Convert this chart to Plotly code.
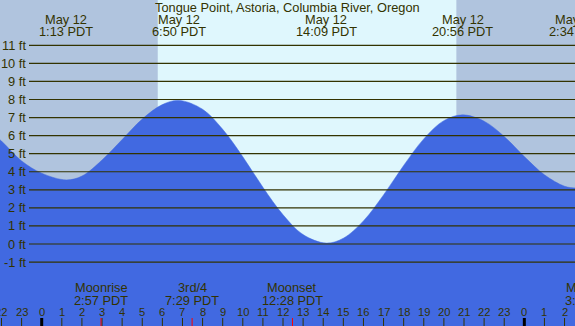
import plotly.graph_objects as go

# ---------------- data ----------------
station = "Tongue Point, Astoria, Columbia River, Oregon"

# hours since midnight, May 12 (PDT) and water level in feet
tide_hours = [-3, -2, -1, 0, 1.22, 2, 3, 4, 5, 6, 6.83, 8, 9, 10, 11, 12, 13,
              14.15, 15, 16, 17, 18, 19, 20, 20.93, 22, 23, 24, 25, 26, 26.57, 27]
tide_ft = [6.70, 5.70, 4.60, 3.92, 3.55, 3.76, 4.65, 5.78, 6.92, 7.72, 7.95,
           7.46, 6.35, 4.83, 3.14, 1.62, 0.52, 0.05, 0.32, 1.28, 2.72, 4.35,
           5.82, 6.83, 7.15, 6.80, 5.95, 4.84, 3.83, 3.20, 3.10, 3.14]

extreme_hours = [1.22, 6.83, 14.15, 20.93, 26.57]
extreme_dates = ["May 12", "May 12", "May 12", "May 12", "May 13"]
extreme_times = ["1:13 PDT", "6:50 PDT", "14:09 PDT", "20:56 PDT", "2:34 PDT"]

moon_hours = [2.95, 7.48, 12.47, 27.37]
moon_names = ["Moonrise", "3rd/4", "Moonset", "Moonrise"]
moon_times = ["2:57 PDT", "7:29 PDT", "12:28 PDT", "3:22 PDT"]

sunset_hours = [-3.4, 20.62]
sunrise_hours = [5.77, 29.75]

hour_ticks = list(range(-2, 27))
hour_labels = [str(h % 24) for h in hour_ticks]
ft_levels = list(range(-1, 12))
ft_labels = [f"{v} ft" for v in ft_levels]

# ---------------- styling / geometry ----------------
W, H = 575, 326
X_RANGE = [-2.074, 26.52]
PX_PER_FT = 18.06
ZERO_PX = 244.0
Y_RANGE = [(ZERO_PX - H) / PX_PER_FT, ZERO_PX / PX_PER_FT]

NIGHT = "#b0c4de"
DAY = "#dff7fd"
WATER = "#4169e1"
INK = "#333300"
FONT = "Liberation Sans, Arial, sans-serif"
FS = 12.8


def hour_to_paper(h):
    """Map an hour on the x axis to a paper fraction (labels may sit past the edge)."""
    return (h - X_RANGE[0]) / (X_RANGE[1] - X_RANGE[0])


fig = go.Figure()

# baseline for the water fill
fig.add_trace(go.Scatter(x=tide_hours, y=[Y_RANGE[0] - 1] * len(tide_hours),
                         mode="lines", line=dict(width=0), hoverinfo="skip",
                         showlegend=False))
fig.add_trace(go.Scatter(x=tide_hours, y=tide_ft, mode="lines",
                         line=dict(color=WATER, width=0.5, shape="spline"),
                         fill="tonexty", fillcolor=WATER, showlegend=False))

shapes = []
# night backgrounds
for s0, s1 in zip(sunset_hours, sunrise_hours):
    shapes.append(dict(type="rect", xref="x", yref="paper", x0=s0, x1=s1,
                       y0=0, y1=1, fillcolor=NIGHT, line=dict(width=0),
                       layer="below"))
# horizontal level lines
for v in ft_levels:
    shapes.append(dict(type="line", xref="paper", yref="y", x0=29 / W, x1=1,
                       y0=v, y1=v, line=dict(color=INK, width=1.2)))
# hour ticks
for h in hour_ticks:
    mid = (h % 24 == 0)
    shapes.append(dict(type="line", xref="x", yref="paper", x0=h, x1=h,
                       y0=0, y1=8 / H,
                       line=dict(color="#000000" if mid else INK,
                                 width=3 if mid else 1)))
# moon event ticks
for m in moon_hours:
    shapes.append(dict(type="line", xref="x", yref="paper", x0=m, x1=m,
                       y0=0, y1=8 / H, line=dict(color="#ff0000", width=1)))


def label(text, xpaper, ypx, size=FS, xanchor="center", xref="paper"):
    return dict(text=text, xref=xref, yref="y2", x=xpaper, y=ypx,
                xanchor=xanchor, yanchor="middle", showarrow=False,
                font=dict(family=FONT, size=size, color=INK))


annotations = [label(station, 0.5, 7.5)]
for h, d, t in zip(extreme_hours, extreme_dates, extreme_times):
    annotations.append(label(d, hour_to_paper(h), 19.5))
    annotations.append(label(t, hour_to_paper(h), 31.5))
for h, n, t in zip(moon_hours, moon_names, moon_times):
    annotations.append(label(n, hour_to_paper(h), 287.2))
    annotations.append(label(t, hour_to_paper(h), 300))
for h, t in zip(hour_ticks, hour_labels):
    annotations.append(label(t, h, 311.7, size=11.2, xref="x"))
for v, lab in zip(ft_levels, ft_labels):
    annotations.append(dict(text=lab, xref="paper", yref="y", x=27.5 / W, y=v,
                            xanchor="right", yanchor="middle", showarrow=False,
                            font=dict(family=FONT, size=FS, color=INK)))

fig.update_layout(
    width=W, height=H, margin=dict(l=0, r=0, t=0, b=0),
    paper_bgcolor=DAY, plot_bgcolor=DAY,
    xaxis=dict(range=X_RANGE, visible=False, fixedrange=True),
    yaxis=dict(range=Y_RANGE, visible=False, fixedrange=True),
    yaxis2=dict(range=[H, 0], overlaying="y", visible=False, fixedrange=True),
    shapes=shapes, annotations=annotations, showlegend=False,
)

fig.write_html(
    "out.html",
    config={"displayModeBar": False},
    post_script="document.body.style.margin='0';document.body.style.overflow='hidden';",
)
